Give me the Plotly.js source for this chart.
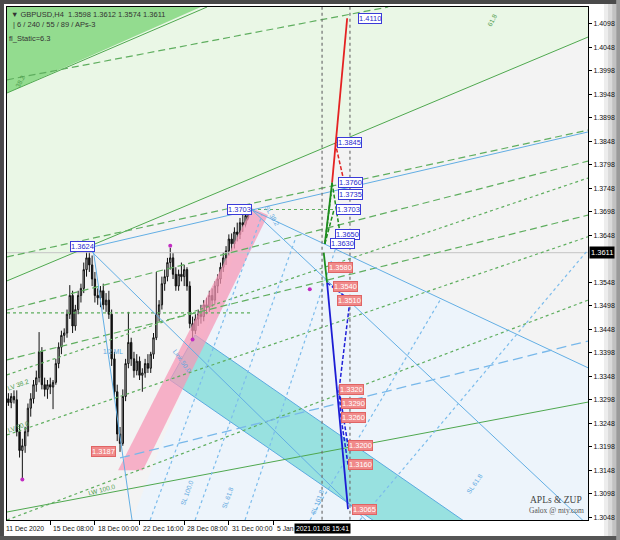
<!DOCTYPE html>
<html><head><meta charset="utf-8">
<script src="https://cdn.plot.ly/plotly-3.0.1.min.js"></script>
<style>html,body{margin:0;padding:0;background:#fff}#chart{width:620px;height:540px}</style>
</head><body><div id="chart"></div>
<script>
// ---- candle data (GBPUSD H4) ----
const barOpen = [1.3300,1.3292,1.3305,1.3298,1.3230,1.3190,1.3200,1.3230,1.3280,1.3300,1.3330,1.3345,1.3400,1.3330,1.3320,1.3330,1.3325,1.3335,1.3375,1.3410,
1.3435,1.3440,1.3480,1.3520,1.3455,1.3490,1.3520,1.3535,1.3575,1.3600,1.3585,1.3555,1.3520,1.3515,1.3530,1.3500,1.3510,1.3480,1.3385,1.3315,
1.3225,1.3205,1.3305,1.3375,1.3420,1.3385,1.3360,1.3380,1.3350,1.3355,1.3375,1.3365,1.3395,1.3430,1.3480,1.3500,1.3545,1.3560,1.3590,1.3600,
1.3565,1.3540,1.3565,1.3560,1.3575,1.3540,1.3460,1.3445,1.3470,1.3480,1.3475,1.3500,1.3495,1.3520,1.3510,1.3540,1.3555,1.3580,1.3600,1.3615,
1.3640,1.3630,1.3655,1.3650,1.3675,1.3670,1.3690,1.3680,1.3690,1.3620,1.3560,1.3580,1.3570,1.3585,1.3568,1.3590,1.3625,1.3640,1.3615,1.3630,
1.3600,1.3610,1.3620,1.3590,1.3600,1.3570,1.3580,1.3560,1.3565,1.3550,1.3555,1.3575,1.3598];
const barHigh = [1.3312,1.3312,1.3318,1.3318,1.3245,1.3215,1.3240,1.3290,1.3312,1.3340,1.3360,1.3442,1.3410,1.3345,1.3340,1.3345,1.3340,1.3385,1.3420,1.3445,
1.3450,1.3490,1.3542,1.3530,1.3500,1.3530,1.3545,1.3590,1.3624,1.3620,1.3605,1.3570,1.3535,1.3540,1.3545,1.3525,1.3530,1.3490,1.3400,1.3330,
1.3240,1.3320,1.3385,1.3485,1.3430,1.3400,1.3395,1.3390,1.3365,1.3385,1.3395,1.3400,1.3440,1.3570,1.3510,1.3560,1.3575,1.3600,1.3621,1.3610,
1.3580,1.3575,1.3590,1.3585,1.3580,1.3550,1.3475,1.3480,1.3490,1.3500,1.3510,1.3515,1.3530,1.3535,1.3550,1.3565,1.3590,1.3612,1.3625,1.3650,
1.3652,1.3665,1.3675,1.3685,1.3692,1.3698,1.3703,1.3700,1.3700,1.3630,1.3595,1.3600,1.3595,1.3600,1.3600,1.3635,1.3655,1.3648,1.3640,1.3640,
1.3615,1.3630,1.3630,1.3610,1.3605,1.3590,1.3590,1.3575,1.3570,1.3560,1.3585,1.3605,1.3612];
const barLow = [1.3285,1.3280,1.3290,1.3220,1.3175,1.3131,1.3185,1.3220,1.3262,1.3290,1.3315,1.3335,1.3320,1.3305,1.3300,1.3310,1.3278,1.3330,1.3365,1.3395,
1.3420,1.3430,1.3470,1.3440,1.3445,1.3480,1.3505,1.3525,1.3560,1.3570,1.3540,1.3505,1.3500,1.3495,1.3490,1.3485,1.3470,1.3370,1.3300,1.3210,
1.3187,1.3200,1.3295,1.3365,1.3370,1.3345,1.3350,1.3340,1.3315,1.3345,1.3355,1.3355,1.3385,1.3425,1.3465,1.3490,1.3530,1.3550,1.3575,1.3555,
1.3530,1.3530,1.3550,1.3540,1.3530,1.3450,1.3429,1.3438,1.3455,1.3460,1.3465,1.3480,1.3485,1.3495,1.3500,1.3525,1.3545,1.3570,1.3585,1.3605,
1.3615,1.3620,1.3635,1.3640,1.3655,1.3660,1.3665,1.3665,1.3610,1.3549,1.3550,1.3560,1.3555,1.3560,1.3560,1.3580,1.3615,1.3605,1.3600,1.3590,
1.3542,1.3595,1.3580,1.3570,1.3560,1.3555,1.3550,1.3545,1.3536,1.3538,1.3545,1.3560,1.3574];
const barClose = [1.3292,1.3305,1.3298,1.3230,1.3190,1.3200,1.3230,1.3280,1.3300,1.3330,1.3345,1.3400,1.3330,1.3320,1.3330,1.3325,1.3335,1.3375,1.3410,1.3435,
1.3440,1.3480,1.3520,1.3455,1.3490,1.3520,1.3535,1.3575,1.3600,1.3585,1.3555,1.3520,1.3515,1.3530,1.3500,1.3510,1.3480,1.3385,1.3315,1.3225,
1.3205,1.3305,1.3375,1.3420,1.3385,1.3360,1.3380,1.3350,1.3355,1.3375,1.3365,1.3395,1.3430,1.3480,1.3500,1.3545,1.3560,1.3590,1.3600,1.3565,
1.3540,1.3565,1.3560,1.3575,1.3540,1.3460,1.3445,1.3470,1.3480,1.3475,1.3500,1.3495,1.3520,1.3510,1.3540,1.3555,1.3580,1.3600,1.3615,1.3640,
1.3630,1.3655,1.3650,1.3675,1.3670,1.3690,1.3680,1.3690,1.3620,1.3560,1.3580,1.3570,1.3585,1.3568,1.3590,1.3625,1.3640,1.3615,1.3630,1.3600,
1.3610,1.3620,1.3590,1.3600,1.3570,1.3580,1.3560,1.3565,1.3550,1.3555,1.3575,1.3598,1.3611];
const barIndex = barClose.map((_, i) => i);

// ---- axis ticks ----
const xTickVals = [15, 31, 47, 63, 79, 95];
const xTickText = ['15 Dec 08:00','18 Dec 00:00','22 Dec 16:00','28 Dec 08:00','31 Dec 00:00','5 Jan'];
const firstDateLabel = '11 Dec 2020';
const cursorBar = 112.4;
const cursorTimeText = '2021.01.08 15:41';
const yTickVals = [1.3048,1.3098,1.3148,1.3198,1.3248,1.3298,1.3348,1.3398,1.3448,1.3498,1.3548,1.3648,1.3698,1.3748,1.3798,1.3848,1.3898,1.3948,1.3998,1.4048,1.4098];
const yTickText = ['1.3048','1.3098','1.3148','1.3198','1.3248','1.3298','1.3348','1.3398','1.3448','1.3498','1.3548','1.3648','1.3698','1.3748','1.3798','1.3848','1.3898','1.3948','1.3998','1.4048','1.4098'];
const lastPrice = 1.3611;
const headerText = '\u25BC GBPUSD,H4  1.3598 1.3612 1.3574 1.3611';
const paramText = '| 6 / 240 / 55 / 89 / APs-3';
const staticText = 'fl_Static=6.3';

// ---- drawn objects (bar index, price) ----
const paleGreenX = [-0.5, 207.7, 207.7, -0.5];
const paleGreenY = [1.4140, 1.4140, 1.4070, 1.3551];
const greenTriX = [-0.5, 71.2, -0.5];
const greenTriY = [1.4140, 1.4140, 1.3951];
const paleBlueX = [43.6, 87.3, 207.7, 207.7];
const paleBlueY = [1.3031, 1.3702, 1.3366, 1.3031];
const tealX = [66.9, 165.4, 133.2, 57.9];
const tealY = [1.3436, 1.3031, 1.3031, 1.3340];
const pinkX = [39.3, 48.2, 93.0, 87.3];
const pinkY = [1.3148, 1.3148, 1.3691, 1.3706];

const greenSolidX = [-0.5, 207.7, null, -0.5, 207.7, null, -0.5, 71.2];
const greenSolidY = [1.3551, 1.4070, null, 1.3059, 1.3293, null, 1.3951, 1.4134];
const greenDashX = [-0.5, 136.1, null, -0.5, 207.7, null, -0.5, 207.7, null, -0.5, 207.7];
const greenDashY = [1.3979, 1.4134, null, 1.3602, 1.3872, null, 1.3383, 1.3691, null, 1.3489, 1.3806];
const greenDotX = [-0.5, 87.3, null, 87.3, 117.0, null, -0.5, 207.7, null, -0.5, 207.7, null, -0.5, 207.7];
const greenDotY = [1.3483, 1.3483, null, 1.3703, 1.3703, null, 1.3351, 1.3770, null, 1.3223, 1.3645, null, 1.3042, 1.3510];
const blueSolidX = [28.5, 207.7, null, 28.5, 133.2, null, 30.3, 44.3, null, 87.3, 207.7, null, 87.3, 207.7];
const blueSolidY = [1.3621, 1.3868, null, 1.3621, 1.3012, null, 1.3621, 1.3042, null, 1.3702, 1.3366, null, 1.3702, 1.3031];
const blueDashX = [40.0, 207.7];
const blueDashY = [1.3174, 1.3423];
const blueDotX = [50.8, 90.9, null, 66.9, 102.7, null, 84.8, 117.1, null, 108.1, 154.7, null, 126.0, 207.7];
const blueDotY = [1.3042, 1.3691, null, 1.3042, 1.3638, null, 1.3042, 1.3617, null, 1.3042, 1.3510, null, 1.3042, 1.3617];
const vLineX = [112.4, 122.4];

// ZUP projections
const redSolidX = [121.4, 116.0];
const redSolidY = [1.4110, 1.3760];
const redDashX = [117.1, 119.9];
const redDashY = [1.3845, 1.3772];
const zGreenSolidX = [116.0, 113.4, null, 113.0, 114.2];
const zGreenSolidY = [1.3760, 1.3630, null, 1.3611, 1.3547];
const zGreenDashX = [116.0, 118.9, null, 113.4, 116.7, null, 113.4, 115.6];
const zGreenDashY = [1.3760, 1.3650, null, 1.3630, 1.3703, null, 1.3630, 1.3735];
const zBlueSolidX = [114.2, 121.7];
const zBlueSolidY = [1.3547, 1.3065];
const zBlueDashX = [114.2, 122.4, 118.5, 121.7, null, 118.5, 119.2, 121.7];
const zBlueDashY = [1.3547, 1.3510, 1.3320, 1.3200, null, 1.3320, 1.3260, 1.3160];

const zupUpText = ['1.4110','1.3845','1.3760','1.3735','1.3703','1.3650','1.3630'];
const zupUpPrice = [1.4110,1.3845,1.3760,1.3735,1.3703,1.3650,1.3630];
const zupUpX = [125.3,117.8,118.1,118.1,117.4,117.1,115.3];
const zupDnText = ['1.3580','1.3540','1.3510','1.3320','1.3290','1.3260','1.3200','1.3160','1.3065'];
const zupDnPrice = [1.3580,1.3540,1.3510,1.3320,1.3290,1.3260,1.3200,1.3160,1.3065];
const zupDnX = [114.5,116.3,117.8,118.5,119.2,119.2,121.7,121.7,123.2];

const pivotText = ['1.3624','1.3703','1.3187'];
const pivotX = [31.0, 87.3, 38.6];
const pivotPrice = [1.3624, 1.3703, 1.3187];
const pivotKind = ['up','up','dn'];

const dotX = [5, 58, 66, 108];
const dotY = [1.3128, 1.3626, 1.3426, 1.3533];

const levelText = ['38.2','61.8','LV 38.2','LV 50.0','LW 100.0','1/2 ML','SL 100.0','SL 61.8','SL 161.8','SL 38.2','Link 50.0','SL 61.8'];
const levelX = [4.2, 173.3, 3.6, 3.6, 33.5, 37.5, 64.0, 78.5, 110.5, 94.5, 62.5, 167.0];
const levelY = [1.3975, 1.4105, 1.3330, 1.3242, 1.3106, 1.3400, 1.3100, 1.3090, 1.3080, 1.3690, 1.3380, 1.3120];
const levelAngle = [-62, -62, -20, -20, -15, 0, -70, -70, -70, 60, 55, -55];
const levelColor = ['#4a9a4a','#4a9a4a','#4a9a4a','#4a9a4a','#4a9a4a','#5aa6e0','#5aa6e0','#5aa6e0','#5aa6e0','#5aa6e0','#5aa6e0','#5aa6e0'];

const wmTitle = 'APLs & ZUP';
const wmSub = 'Galox @ mty.com';

// ---- traces ----
const F = 'Liberation Sans, DejaVu Sans, sans-serif';
function poly(x, y, fill, line) {
  return {type:'scatter', mode:'lines', x:x.concat([x[0]]), y:y.concat([y[0]]), fill:'toself', fillcolor:fill,
    line:{color: line || 'rgba(0,0,0,0)', width: line ? 1 : 0}, hoverinfo:'skip'};
}
function lines(x, y, color, width, dash) {
  return {type:'scatter', mode:'lines', x:x, y:y, line:{color:color, width:width, dash:dash || 'solid'}, connectgaps:false, hoverinfo:'skip'};
}
const traces = [
  poly(paleGreenX, paleGreenY, '#eaf7e6'),
  poly(paleBlueX, paleBlueY, '#edf4fb'),
  poly(greenTriX, greenTriY, '#93dc8f'),
  poly(tealX, tealY, 'rgba(95,212,206,0.6)', '#5aaae0'),
  poly(pinkX, pinkY, 'rgba(246,150,182,0.72)'),
  lines([-0.5, 207.7], [lastPrice, lastPrice], '#c4c4c4', 1),
  lines(greenSolidX, greenSolidY, '#4fa84f', 1),
  lines(greenDashX, greenDashY, '#5fae5f', 1.2, '7px,4px'),
  lines(greenDotX, greenDotY, '#5fae5f', 1.2, 'dot'),
  lines(blueSolidX, blueSolidY, '#62aee4', 1),
  lines(blueDashX, blueDashY, '#78b8ea', 1.3, '10px,5px'),
  lines(blueDotX, blueDotY, '#7cbcec', 1.2, 'dot'),
  lines([vLineX[0], vLineX[0], null, vLineX[1], vLineX[1]], [1.3030, 1.4150, null, 1.3030, 1.4150], '#707070', 1.2, 'dot'),
  {type:'candlestick', x:barIndex, open:barOpen, high:barHigh, low:barLow, close:barClose,
   increasing:{line:{color:'#111', width:1}, fillcolor:'#d8d8d8'},
   decreasing:{line:{color:'#111', width:1}, fillcolor:'#111'}, whiskerwidth:0, hoverinfo:'skip'},
  {type:'scatter', mode:'markers', x:dotX, y:dotY, marker:{color:'#c22cc2', size:4}, hoverinfo:'skip'},
  lines(zGreenDashX, zGreenDashY, '#1e8c1e', 1.5, '4px,2px'),
  lines(redDashX, redDashY, '#e02424', 1.5, '4px,2px'),
  lines(zBlueDashX, zBlueDashY, '#2020d8', 1.5, '4px,2px'),
  lines(redSolidX, redSolidY, '#e42222', 1.8),
  lines(zGreenSolidX, zGreenSolidY, '#1e8c1e', 1.8),
  lines(zBlueSolidX, zBlueSolidY, '#1c1cd4', 1.8)
];

// ---- annotations ----
const ann = [];
const boxUp = {bgcolor:'#ffffff', bordercolor:'#3a3ad8', font:{family:F, size:7.5, color:'#2a2acc'}};
const boxDn = {bgcolor:'#f08a8a', bordercolor:'#e06464', font:{family:F, size:7.5, color:'#ffffff'}};
zupUpText.forEach((t, i) => ann.push(Object.assign({x:zupUpX[i], y:zupUpPrice[i], text:t, xanchor:'left', yanchor:'middle', showarrow:false, borderwidth:1, borderpad:0}, boxUp)));
zupDnText.forEach((t, i) => ann.push(Object.assign({x:zupDnX[i], y:zupDnPrice[i], text:t, xanchor:'left', yanchor:'middle', showarrow:false, borderwidth:1, borderpad:0}, boxDn)));
pivotText.forEach((t, i) => ann.push(Object.assign({x:pivotX[i], y:pivotPrice[i], text:t, xanchor:'right', yanchor:'middle', showarrow:false, borderwidth:1, borderpad:0}, pivotKind[i] === 'up' ? boxUp : boxDn)));
levelText.forEach((t, i) => ann.push({x:levelX[i], y:levelY[i], text:t, textangle:levelAngle[i], showarrow:false, font:{family:F, size:6.5, color:levelColor[i]}}));
// x labels
const xFont = {family:F, size:6.8, color:'#111'};
ann.push({x:-0.5, y:0, xref:'x', yref:'paper', yanchor:'top', xanchor:'left', xshift:-3, yshift:-3, text:firstDateLabel, showarrow:false, font:xFont});
xTickVals.forEach((v, i) => ann.push({x:v, y:0, xref:'x', yref:'paper', yanchor:'top', xanchor:'left', xshift:1, yshift:-3, text:xTickText[i], showarrow:false, font:xFont}));
ann.push({x:cursorBar, y:0, xref:'x', yref:'paper', yanchor:'top', xanchor:'center', yshift:-3, text:cursorTimeText, showarrow:false, bgcolor:'#000', borderpad:1, font:{family:F, size:6.8, color:'#fff'}});
// last price box on axis
ann.push({x:1, xref:'paper', y:lastPrice, yref:'y', xanchor:'left', yanchor:'middle', xshift:1, text:'1.3611', showarrow:false, bgcolor:'#000', borderpad:1, font:{family:F, size:7.5, color:'#fff'}});
// header
ann.push({x:0, y:1, xref:'paper', yref:'paper', xanchor:'left', yanchor:'top', xshift:2, yshift:-1, text:headerText, showarrow:false, font:{family:F, size:7.5, color:'#333'}});
ann.push({x:0, y:1, xref:'paper', yref:'paper', xanchor:'left', yanchor:'top', xshift:4, yshift:-11, text:paramText, showarrow:false, font:{family:F, size:7.5, color:'#333'}});
ann.push({x:0, y:1, xref:'paper', yref:'paper', xanchor:'left', yanchor:'top', xshift:0, yshift:-25, text:staticText, showarrow:false, font:{family:F, size:7.5, color:'#333'}});
// watermark
ann.push({x:1, y:0, xref:'paper', yref:'paper', xanchor:'center', yanchor:'bottom', xshift:-32, yshift:13, text:wmTitle, showarrow:false, font:{family:'Liberation Serif, serif', size:9.5, color:'#444'}});
ann.push({x:1, y:0, xref:'paper', yref:'paper', xanchor:'center', yanchor:'bottom', xshift:-32, yshift:3, text:wmSub, showarrow:false, font:{family:'Liberation Serif, serif', size:7.5, color:'#555'}});

// ---- frame shapes (drawn under the axis labels) ----
const shapes = [
  {type:'rect', xref:'paper', yref:'paper', x0:-0.0125, x1:-0.0052, y0:-0.04, y1:1.015, fillcolor:'#4a4a4a', line:{width:0}, layer:'below'},
  {type:'rect', xref:'paper', yref:'paper', x0:-0.0125, x1:1.06, y0:1.0058, y1:1.015, fillcolor:'#4a4a4a', line:{width:0}, layer:'below'},
  {type:'rect', xref:'paper', yref:'paper', x0:-0.0125, x1:1.06, y0:-0.04, y1:-0.031, fillcolor:'#555555', line:{width:0}, layer:'below'},
  {type:'rect', xref:'paper', yref:'paper', x0:1.0275, x1:1.0345, y0:-0.031, y1:1.0058, fillcolor:'#ededed', line:{width:0}, layer:'below'},
  {type:'rect', xref:'paper', yref:'paper', x0:1.0345, x1:1.0415, y0:-0.031, y1:1.0058, fillcolor:'#dadada', line:{width:0}, layer:'below'},
  {type:'rect', xref:'paper', yref:'paper', x0:1.0415, x1:1.0485, y0:-0.031, y1:1.0058, fillcolor:'#c2c2c2', line:{width:0}, layer:'below'},
  {type:'rect', xref:'paper', yref:'paper', x0:1.0485, x1:1.06, y0:-0.04, y1:1.015, fillcolor:'#9a9a9a', line:{width:0}, layer:'below'}
];

const layout = {
  width:620, height:540, margin:{l:7, r:32, t:7, b:20, pad:0},
  paper_bgcolor:'#ffffff', plot_bgcolor:'#f3f3f3', showlegend:false, dragmode:false,
  xaxis:{range:[-0.5, 207.7], showgrid:false, zeroline:false, showline:true, linecolor:'#000', linewidth:1, mirror:true,
    ticks:'outside', ticklen:4, tickcolor:'#000', tickvals:xTickVals, showticklabels:false, rangeslider:{visible:false}, fixedrange:true},
  yaxis:{side:'right', range:[1.3042, 1.4134], tickvals:yTickVals, ticktext:yTickText, ticks:'outside', ticklen:3, tickcolor:'#000',
    showgrid:false, zeroline:false, showline:true, linecolor:'#000', linewidth:1, mirror:true,
    tickfont:{family:F, size:7, color:'#111'}, fixedrange:true, automargin:false},
  shapes:shapes, annotations:ann
};
Plotly.newPlot('chart', traces, layout, {staticPlot:true, displayModeBar:false});
</script></body></html>
